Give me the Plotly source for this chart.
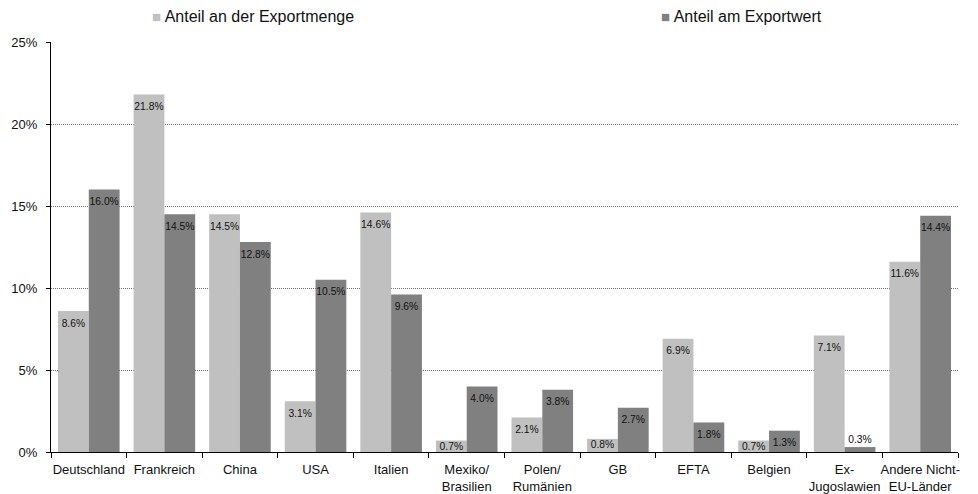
import plotly.graph_objects as go

categories = ["Deutschland", "Frankreich", "China", "USA", "Italien", "Mexiko/<br>Brasilien",
              "Polen/<br>Rumänien", "GB", "EFTA", "Belgien", "Ex-<br>Jugoslawien",
              "Andere Nicht-<br>EU-Länder"]
menge = [8.6, 21.8, 14.5, 3.1, 14.6, 0.7, 2.1, 0.8, 6.9, 0.7, 7.1, 11.6]
wert = [16.0, 14.5, 12.8, 10.5, 9.6, 4.0, 3.8, 2.7, 1.8, 1.3, 0.3, 14.4]
series_names = ["Anteil an der Exportmenge", "Anteil am Exportwert"]
colors = ["#C0C0C0", "#808080"]
y_ticks = [0, 5, 10, 15, 20, 25]
y_ticktext = ["0%", "5%", "10%", "15%", "20%", "25%"]

FONT = "Liberation Sans, Arial, sans-serif"
GAP = 0.185

fig = go.Figure()
for i, (name, vals, col) in enumerate(zip(series_names, [menge, wert], colors)):
    fig.add_trace(go.Bar(
        x=categories, y=vals, name=name, marker_color=col, marker_line_width=0,
        offsetgroup=str(i), alignmentgroup="a", showlegend=False, hoverinfo="x+y",
    ))

# data labels (placed inside the top of each bar, above very small bars)
for i, vals in enumerate([menge, wert]):
    pos = []
    sizes = []
    for v in vals:
        if v < 0.5:
            pos.append("top center"); sizes.append(1)
        elif v < 1.0:
            pos.append("bottom center"); sizes.append(1)
        else:
            pos.append("bottom center"); sizes.append(11)
    fig.add_trace(go.Scatter(
        x=categories, y=vals, mode="markers+text",
        marker=dict(size=sizes, opacity=0, color="rgba(0,0,0,0)"),
        text=[f"{v:.1f}%" for v in vals], textposition=pos,
        textfont=dict(size=10.3, color="#111111", family=FONT),
        offsetgroup=str(i), alignmentgroup="a", showlegend=False,
        hoverinfo="skip", cliponaxis=False,
    ))

legend_x = [0.109, 0.670]
for name, col, lx in zip(series_names, colors, legend_x):
    fig.add_annotation(
        xref="paper", yref="paper", x=lx, y=1.061, xanchor="left", yanchor="middle",
        text=f'<span style="color:{col};font-size:15px">■</span> {name}',
        showarrow=False, font=dict(size=16, color="#111111", family=FONT),
    )

fig.update_layout(
    width=970, height=486,
    margin=dict(l=43, r=20, t=34, b=42),
    paper_bgcolor="white", plot_bgcolor="white",
    barmode="group", bargap=GAP, bargroupgap=0,
    scattermode="group", scattergap=GAP,
    font=dict(family=FONT, size=13, color="#111111"),
)
fig.update_xaxes(
    automargin=False,
    showline=True, linecolor="#000000", linewidth=1,
    ticks="outside", tickson="boundaries", ticklen=5, tickcolor="#000000",
    tickfont=dict(size=13, color="#111111"), showgrid=False, tickangle=0,
    ticklabelstandoff=5,
)
fig.update_yaxes(
    automargin=False,
    range=[0, 25], tickmode="array", tickvals=y_ticks, ticktext=y_ticktext,
    showline=True, linecolor="#000000", linewidth=1,
    ticks="outside", ticklen=4, tickcolor="#000000", ticklabelstandoff=6,
    showgrid=True, gridcolor="#707070", griddash="1px,1px", gridwidth=1,
    zeroline=False, tickfont=dict(size=13, color="#111111"),
)

fig.write_html("out.html")
